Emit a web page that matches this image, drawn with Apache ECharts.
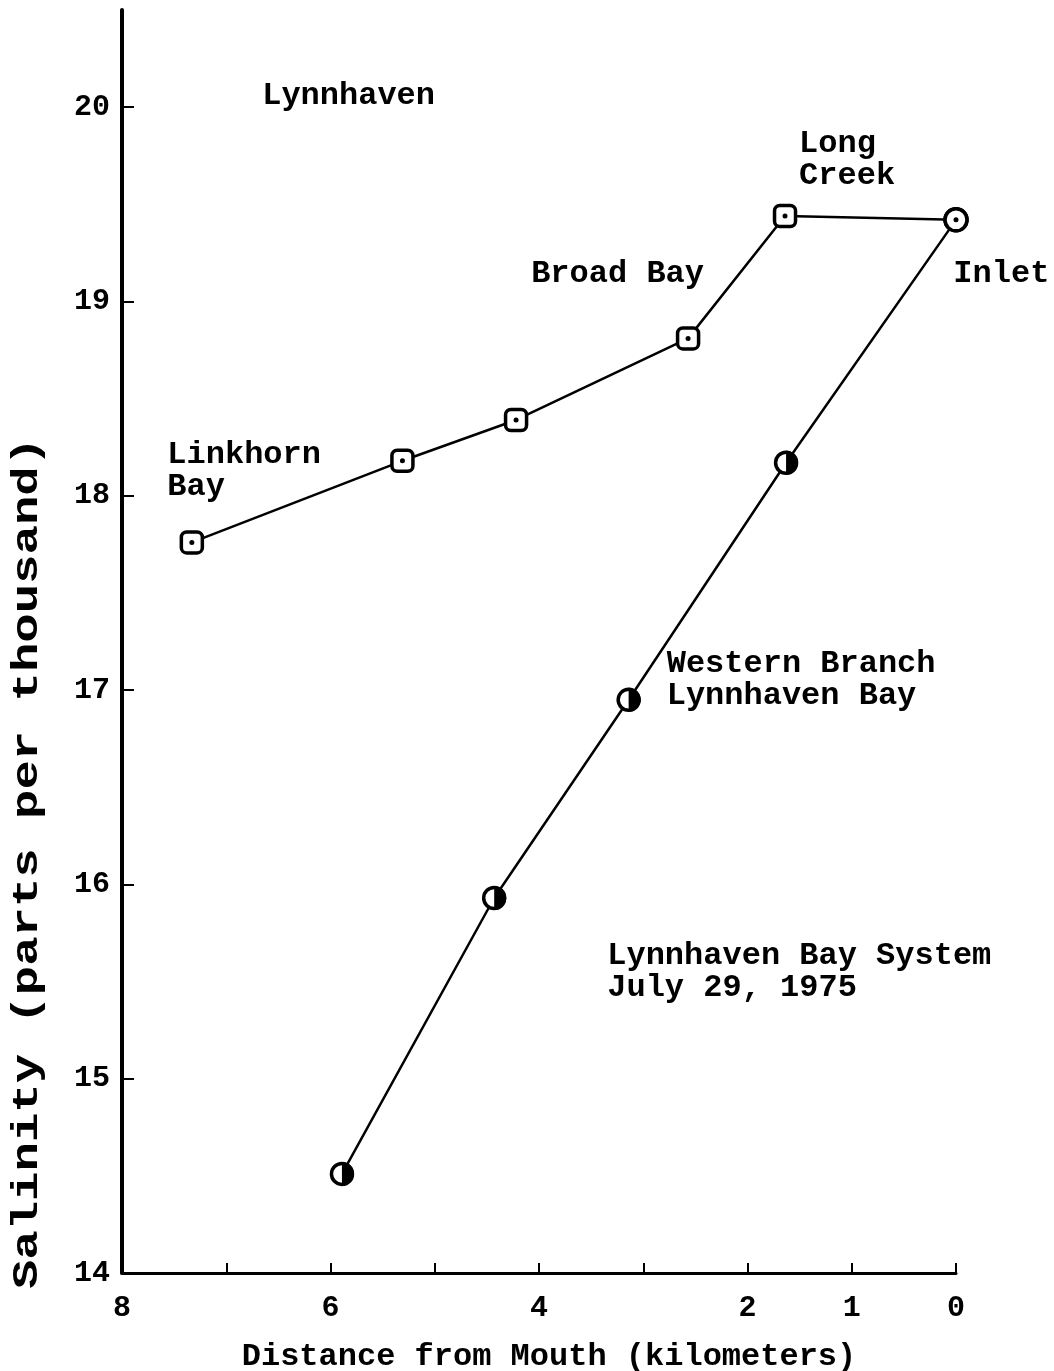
<!DOCTYPE html>
<html>
<head>
<meta charset="utf-8">
<script src="https://cdn.jsdelivr.net/npm/echarts@6/dist/echarts.min.js"></script>
<style>
  html, body { margin: 0; padding: 0; background: #fff; }
  #chart { width: 1054px; height: 1371px; }
</style>
</head>
<body>
<div id="chart"></div>
<script>
// distance from mouth (km) / salinity (ppt)
var lynnDist = [7.33, 5.31, 4.22, 2.57, 1.64];
var lynnSal = [17.76, 18.18, 18.39, 18.81, 19.44];
var westDist = [5.89, 4.43, 3.14, 1.63];
var westSal = [14.51, 15.93, 16.95, 18.17];
var inletDist = 0;
var inletSal = 19.42;

var xTicks = [0, 1, 2, 3, 4, 5, 6, 7, 8];
var xLabels = [8, 6, 4, 2, 1, 0];
var yTicks = [14, 15, 16, 17, 18, 19, 20];

// text notes, anchored at (distance, salinity)
var noteText = ['Lynnhaven', 'Linkhorn\nBay', 'Broad Bay', 'Long\nCreek', 'Inlet',
                'Western Branch\nLynnhaven Bay', 'Lynnhaven Bay System\nJuly 29, 1975'];
var noteDist = [6.66, 7.57, 4.08, 1.51, 0.03, 2.78, 3.35];
var noteSal = [20.06, 18.13, 19.14, 19.73, 19.14, 17.05, 15.55];

var font = 'Liberation Mono';
var ink = '#000';

function pairs(xs, ys) {
    var out = [];
    for (var i = 0; i < xs.length; i++) out.push([xs[i], ys[i]]);
    return out;
}

var lynnLine = pairs(lynnDist, lynnSal);
lynnLine.push({ value: [inletDist, inletSal], symbol: 'circle', symbolSize: 22 });
var westLine = pairs(westDist, westSal);
westLine.push({ value: [inletDist, inletSal], symbol: 'circle', symbolSize: 22 });

var dots = pairs(lynnDist, lynnSal);
dots.push([inletDist, inletSal]);

var notes = [];
for (var i = 0; i < noteText.length; i++) {
    notes.push({ name: noteText[i], value: [noteDist[i], noteSal[i]] });
}

var chart = echarts.init(document.getElementById('chart'));
var option = {
    backgroundColor: '#fff',
    animation: false,
    grid: { left: 122, right: 98, top: 10, bottom: 98, outerBoundsMode: 'none' },
    xAxis: {
        type: 'value',
        inverse: true,
        min: 0,
        max: 8,
        interval: 1,
        splitLine: { show: false },
        axisLine: { onZero: false, lineStyle: { color: ink, width: 3 } },
        axisTick: { inside: true, length: 10, lineStyle: { color: ink, width: 2 }, customValues: xTicks },
        axisLabel: {
            customValues: xLabels,
            margin: 20,
            color: ink,
            fontFamily: font,
            fontWeight: 'bold',
            fontSize: 30
        },
        name: 'Distance from Mouth (kilometers)',
        nameLocation: 'middle',
        nameGap: 68,
        nameTextStyle: { color: ink, fontFamily: font, fontWeight: 'bold', fontSize: 32, padding: [0, 0, 0, 20] }
    },
    yAxis: {
        type: 'value',
        position: 'left',
        min: 14,
        max: 20.5,
        interval: 1,
        splitLine: { show: false },
        axisLine: { onZero: false, lineStyle: { color: ink, width: 4 } },
        axisTick: { inside: true, length: 12, lineStyle: { color: ink, width: 2 }, customValues: yTicks },
        axisLabel: {
            customValues: yTicks,
            margin: 12,
            color: ink,
            fontFamily: font,
            fontWeight: 'bold',
            fontSize: 30
        }
    },
    graphic: [{
        type: 'text',
        x: 28,
        y: 863,
        rotation: Math.PI / 2,
        scaleX: 1.36,
        style: {
            text: 'Salinity (parts per thousand)',
            fill: ink,
            font: 'bold 36px "Liberation Mono"',
            align: 'center',
            verticalAlign: 'middle'
        }
    }],
    series: [
        {
            name: 'Lynnhaven',
            type: 'line',
            data: lynnLine,
            symbol: 'roundRect',
            symbolSize: 21,
            lineStyle: { color: ink, width: 2.5 },
            itemStyle: { color: '#fff', borderColor: ink, borderWidth: 3.5 },
            z: 3
        },
        {
            name: 'Western Branch',
            type: 'line',
            data: westLine,
            symbol: 'circle',
            symbolSize: 21,
            lineStyle: { color: ink, width: 2.5 },
            itemStyle: { color: '#fff', borderColor: ink, borderWidth: 3.5 },
            z: 3
        },
        {
            // centre dots of square / inlet markers
            type: 'scatter',
            data: dots,
            symbol: 'circle',
            symbolSize: 5,
            itemStyle: { color: ink, opacity: 1 },
            z: 5
        },
        {
            // filled right half of the Western Branch markers
            type: 'scatter',
            data: pairs(westDist, westSal),
            symbol: 'path://M0,0 A1,1 0 0,1 0,2 Z',
            symbolSize: [12, 24],
            symbolOffset: [6, 0],
            itemStyle: { color: ink, opacity: 1 },
            z: 5
        },
        {
            type: 'scatter',
            data: notes,
            symbolSize: 1,
            clip: false,
            itemStyle: { color: 'rgba(0,0,0,0)', opacity: 1 },
            label: {
                show: true,
                position: 'right',
                distance: 0,
                formatter: function (p) { return p.name; },
                color: ink,
                opacity: 1,
                fontFamily: font,
                fontWeight: 'bold',
                fontSize: 32,
                lineHeight: 32,
                align: 'left',
                verticalAlign: 'middle'
            },
            z: 6
        }
    ]
};
chart.setOption(option);
</script>
</body>
</html>
